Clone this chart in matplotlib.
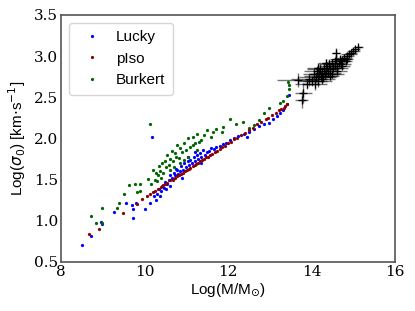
import numpy as np
import matplotlib.pyplot as plt

# pIso (red)
piso_x = [8.67, 8.91, 9.49, 9.81, 9.95, 10.05, 10.12, 10.20, 10.25, 10.32, 10.40, 10.45,
          10.50, 10.55, 10.62, 10.68, 10.72, 10.78, 10.83, 10.88, 10.92, 10.97, 11.02, 11.06,
          11.10, 11.15, 11.20, 11.24, 11.28, 11.33, 11.38, 11.42, 11.47, 11.52, 11.57, 11.62,
          11.68, 11.73, 11.80, 11.86, 11.92, 12.00, 12.08, 12.15, 12.22, 12.30, 12.40, 12.50,
          12.60, 12.70, 12.80, 12.90, 12.95, 13.05, 13.15, 13.22, 13.28, 13.33, 13.37, 13.40]
piso_y = [0.84, 0.90, 1.09, 1.20, 1.26, 1.30, 1.32, 1.35, 1.36, 1.39, 1.41, 1.43,
          1.45, 1.46, 1.49, 1.50, 1.52, 1.54, 1.55, 1.57, 1.58, 1.60, 1.62, 1.63,
          1.64, 1.66, 1.68, 1.69, 1.70, 1.72, 1.74, 1.75, 1.77, 1.78, 1.80, 1.81,
          1.83, 1.85, 1.87, 1.89, 1.91, 1.94, 1.96, 1.99, 2.01, 2.04, 2.07, 2.10,
          2.13, 2.17, 2.20, 2.23, 2.25, 2.28, 2.31, 2.34, 2.36, 2.37, 2.39, 2.42]

# Lucky (blue)
lucky_x = [8.51, 8.71, 8.95, 8.97, 9.27, 9.56, 9.72, 9.72, 9.71, 9.80, 10.01, 10.13,
           10.18, 10.22, 10.30, 10.35, 10.38, 10.42, 10.46, 10.50, 10.55, 10.58, 10.62,
           10.66, 10.70, 10.74, 10.78, 10.80, 10.85, 10.88, 10.92, 10.95, 11.00, 11.03,
           11.07, 11.10, 11.14, 11.18, 11.22, 11.25, 11.28, 11.32, 11.36, 11.40, 11.45,
           11.50, 11.55, 11.60, 11.66, 11.72, 11.80, 11.88, 11.95, 12.05, 12.15, 12.25,
           12.38, 12.50, 12.62, 12.75, 12.85, 12.97, 13.08, 13.18, 13.25, 13.32, 13.40,
           13.47, 10.60, 10.90, 11.05, 11.20, 10.40, 10.75, 10.28, 10.52, 11.35, 12.45]
lucky_y = [0.70, 0.81, 0.98, 0.96, 1.11, 1.21, 1.14, 1.03, 1.19, 1.22, 1.14, 1.22,
           2.02, 1.30, 1.33, 1.38, 1.30, 1.42, 1.40, 1.47, 1.44, 1.50, 1.55,
           1.52, 1.58, 1.55, 1.62, 1.57, 1.60, 1.66, 1.62, 1.70, 1.65, 1.72,
           1.68, 1.74, 1.70, 1.78, 1.72, 1.80, 1.75, 1.82, 1.77, 1.86, 1.80,
           1.83, 1.85, 1.88, 1.87, 1.89, 1.91, 1.93, 1.95, 1.98, 2.00, 2.03,
           2.05, 2.08, 2.11, 2.15, 2.17, 2.19, 2.24, 2.27, 2.31, 2.35, 2.42,
           2.53, 1.42, 1.52, 1.78, 1.84, 1.36, 1.63, 1.25, 1.38, 1.70, 2.02]

# Burkert (green)
burkert_x = [8.71, 8.83, 8.97, 8.97, 9.35, 9.40, 9.52, 9.63, 9.77, 9.83, 9.90, 9.90,
             10.08, 10.12, 10.15, 10.21, 10.25, 10.28, 10.32, 10.35, 10.38, 10.42, 10.45,
             10.48, 10.52, 10.55, 10.58, 10.62, 10.65, 10.68, 10.72, 10.75, 10.78, 10.82,
             10.86, 10.90, 10.95, 11.00, 11.05, 11.10, 11.15, 11.20, 11.25, 11.30, 11.35,
             11.42, 11.50, 11.58, 11.65, 11.72, 11.85, 11.89, 12.05, 12.20, 12.35, 12.50,
             12.62, 12.73, 12.86, 12.97, 13.25, 13.31, 13.40, 13.45, 13.45, 13.43, 10.40,
             10.60, 10.85, 11.05, 11.25, 10.30, 10.70, 10.95, 11.15]
burkert_y = [1.06, 0.97, 1.16, 0.97, 1.16, 1.21, 1.32, 1.43, 1.44, 1.35, 1.44, 1.36,
             1.51, 2.17, 1.45, 1.62, 1.50, 1.58, 1.55, 1.66, 1.60, 1.70, 1.58,
             1.72, 1.65, 1.80, 1.68, 1.75, 1.85, 1.72, 1.82, 1.78, 1.92, 1.76,
             1.88, 1.83, 1.95, 1.86, 2.00, 1.90, 2.02, 1.95, 2.05, 1.96, 1.98,
             2.04, 2.10, 2.02, 2.08, 2.12, 2.08, 2.14, 2.24, 2.18, 2.20, 2.13,
             2.16, 2.22, 2.31, 2.37, 2.43, 2.46, 2.52, 2.60, 2.65, 2.69, 1.52,
             1.62, 1.70, 1.78, 1.86, 1.48, 1.65, 1.74, 1.92]

# clusters (black crosses with error bars)
clus_x = [13.68, 13.76, 13.80, 13.90, 13.95, 14.02, 14.05, 14.10, 14.12, 14.15, 14.18,
          14.20, 14.22, 14.25, 14.28, 14.30, 14.32, 14.35, 14.38, 14.40, 14.42, 14.45,
          14.48, 14.50, 14.52, 14.55, 14.58, 14.59, 14.62, 14.65, 14.68, 14.70, 14.74,
          14.78, 14.82, 14.86, 14.90, 14.95, 15.00, 15.05, 15.12, 14.35, 14.60, 14.25,
          14.08, 14.15, 14.45, 14.55, 14.72, 14.85]
clus_y = [2.71, 2.47, 2.55, 2.66, 2.72, 2.70, 2.78, 2.74, 2.82, 2.70, 2.78,
          2.84, 2.76, 2.80, 2.74, 2.86, 2.78, 2.82, 2.88, 2.80, 2.90, 2.84,
          2.78, 2.92, 2.86, 2.88, 2.96, 3.04, 2.86, 2.92, 2.96, 2.90, 2.95,
          2.98, 2.94, 3.00, 3.02, 3.04, 3.06, 3.08, 3.11, 2.92, 2.82, 2.72,
          2.66, 2.86, 2.76, 2.94, 2.88, 2.97]
clus_xerr = [0.50, 0.15, 0.20, 0.30, 0.45, 0.35, 0.25, 0.40, 0.30, 0.35, 0.25,
             0.30, 0.40, 0.20, 0.30, 0.25, 0.35, 0.30, 0.20, 0.30, 0.25, 0.20,
             0.30, 0.20, 0.25, 0.20, 0.15, 0.10, 0.25, 0.20, 0.15, 0.25, 0.15,
             0.20, 0.15, 0.15, 0.20, 0.15, 0.15, 0.10, 0.10, 0.20, 0.25, 0.30,
             0.30, 0.25, 0.20, 0.15, 0.20, 0.15]
clus_yerr = [0.08, 0.10, 0.12, 0.06, 0.08, 0.06, 0.07, 0.05, 0.06, 0.08, 0.05,
             0.06, 0.05, 0.07, 0.05, 0.06, 0.05, 0.06, 0.05, 0.05, 0.06, 0.05,
             0.05, 0.04, 0.05, 0.04, 0.05, 0.06, 0.04, 0.04, 0.04, 0.05, 0.04,
             0.04, 0.04, 0.04, 0.03, 0.04, 0.03, 0.03, 0.03, 0.05, 0.05, 0.06,
             0.07, 0.05, 0.05, 0.04, 0.04, 0.04]

fig = plt.figure(figsize=(4.15, 3.11), dpi=100)
ax = fig.add_axes([0.147, 0.158, 0.805, 0.794])

ax.errorbar(clus_x, clus_y, xerr=clus_xerr, yerr=clus_yerr, fmt='+', color='k',
            ecolor=(0, 0, 0, 0.55), elinewidth=1, markersize=6, mew=0.9, zorder=2)
ax.plot(lucky_x, lucky_y, '.', color='blue', markersize=2.6, label='Lucky', zorder=3)
ax.plot(piso_x, piso_y, '.', color='darkred', markersize=2.6, label='pIso', zorder=4)
ax.plot(burkert_x, burkert_y, '.', color='darkgreen', markersize=2.6, label='Burkert', zorder=3)

ax.set_xlim(8, 16)
ax.set_ylim(0.5, 3.5)
ax.set_xticks([8, 10, 12, 14, 16])
ax.set_yticks([0.5, 1.0, 1.5, 2.0, 2.5, 3.0, 3.5])
ax.tick_params(length=0, pad=2, labelsize=11)
for lab in ax.get_xticklabels() + ax.get_yticklabels():
    lab.set_family('DejaVu Serif')
for s in ax.spines.values():
    s.set_color('#555555')
    s.set_linewidth(1.2)

ax.set_xlabel(r'Log(M/M$_{\odot}$)', fontsize=11, family='Liberation Sans', labelpad=2)
ax.set_ylabel(r'Log($\sigma_0$) [km$\cdot$s$^{-1}$]', fontsize=11, family='Liberation Sans', labelpad=4)

leg = ax.legend(loc='upper left', handletextpad=0.6, borderpad=0.5,
                prop={'family': 'Liberation Sans', 'size': 11})
leg.get_frame().set_edgecolor('#cccccc')

fig.savefig('out.png', dpi=100)
